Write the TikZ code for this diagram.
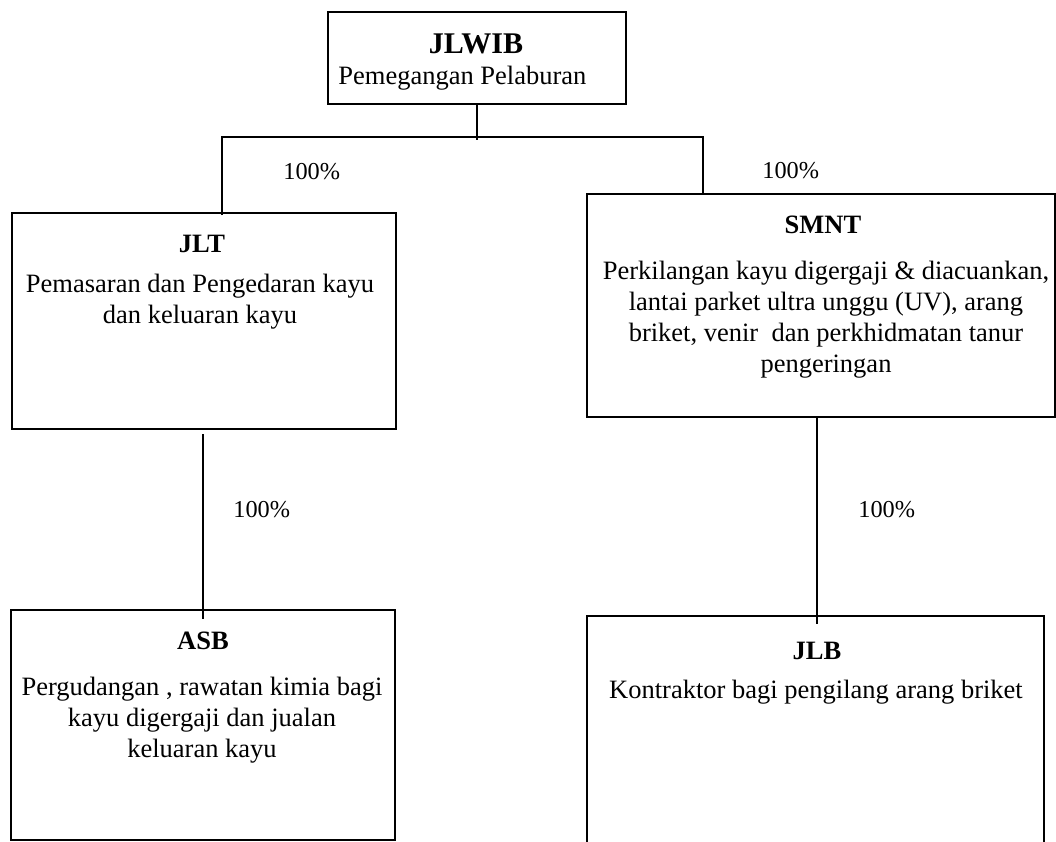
\documentclass[tikz,border=0pt]{standalone}
\usepackage{fontspec}
\setmainfont{Liberation Serif}
\usetikzlibrary{positioning}
\def\pxu{0.4528pt}
\tikzset{
  orgbox/.style={draw,line width=0.9pt,inner sep=0pt},
  orgttl/.style={font=\fontsize{12}{13.9}\selectfont\bfseries,anchor=base,inner sep=0pt},
  orgtxt/.style={font=\fontsize{12}{13.9}\selectfont,align=center,anchor=base,inner sep=0pt},
  pct/.style={font=\fontsize{11}{13}\selectfont,anchor=base west,inner sep=0pt},
  link/.style={line width=0.9pt},
  every picture/.style={line join=miter}}

\begin{document}
\begin{tikzpicture}[x=\pxu,y=-\pxu]
  \useasboundingbox (0,0) rectangle (1056,842);
  \node[orgbox,minimum width=298*\pxu,minimum height=92*\pxu] (jlwib) at (477,58){};
  \node[orgttl,font=\fontsize{13.6}{15}\selectfont\bfseries] (jlwib-t) at (476,53){JLWIB};
  \node[orgtxt,anchor=base west] (jlwib-d) at (338,84){Pemegangan Pelaburan};
  \node[orgbox,minimum width=384*\pxu,minimum height=216*\pxu] (jlt) at (204,321){};
  \node[orgttl] (jlt-t) at (202,252){JLT};
  \node[orgtxt] (jlt-d) at (200,323){Pemasaran dan Pengedaran kayu\\dan keluaran kayu};
  \node[orgbox,minimum width=468*\pxu,minimum height=223*\pxu] (smnt) at (821,305.5){};
  \node[orgttl] (smnt-t) at (823,233){SMNT};
  \node[orgtxt] (smnt-d) at (826,372){Perkilangan kayu digergaji \& diacuankan,\\lantai parket ultra unggu (UV), arang\\briket, venir\ \ dan perkhidmatan tanur\\pengeringan};
  \node[orgbox,minimum width=384*\pxu,minimum height=230*\pxu] (asb) at (203,725){};
  \node[orgttl] (asb-t) at (203,649){ASB};
  \node[orgtxt] (asb-d) at (202,757){Pergudangan , rawatan kimia bagi\\kayu digergaji dan jualan\\keluaran kayu};
  \node[orgbox,minimum width=457*\pxu,minimum height=264*\pxu] (jlb) at (815.5,748){};
  \node[orgttl] (jlb-t) at (817,659){JLB};
  \node[orgtxt] (jlb-d) at (816,698){Kontraktor bagi pengilang arang briket};
  \coordinate (barL) at (222,137);\coordinate (barR) at (703,137);
  \draw[link] (jlwib.south) -- ([yshift=-3*\pxu]jlwib.south |- barL);
  \draw[link] ([yshift=-3*\pxu]jlt.north -| barL) -- (barL) -- (barR) -- ([yshift=-2*\pxu]smnt.north -| barR);
  \draw[link] ([yshift=-4*\pxu]jlt.south -| asb-t) -- ([yshift=-10*\pxu]asb.north -| asb-t);
  \draw[link] (smnt.south -| jlb-t) -- ([yshift=-9*\pxu]jlb.north -| jlb-t);
  \node[pct] (p-jlt) at (283,179){100\%};
  \node[pct] (p-smnt) at (762,178){100\%};
  \node[pct] (p-asb) at (233,517){100\%};
  \node[pct] (p-jlb) at (858,517){100\%};
\end{tikzpicture}
\end{document}
